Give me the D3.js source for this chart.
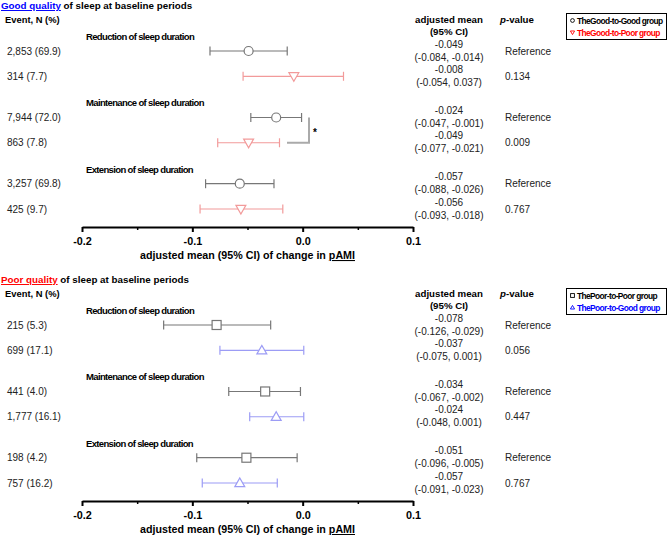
<!DOCTYPE html>
<html><head><meta charset="utf-8">
<script src="https://cdn.jsdelivr.net/npm/d3@7"></script>
<style>
body{margin:0;background:#fff;}
svg{font-family:"Liberation Sans",Arial,sans-serif;}
</style></head>
<body><div id="chart"></div>
<script>
// ---- data ----
const subgroups = ["Reduction of sleep duration","Maintenance of sleep duration","Extension of sleep duration"];
const tickValues = [-0.2,-0.1,0.0,0.1];
const tickLabels = ["-0.2","-0.1","0.0","0.1"];
const minorTicks = [-0.15,-0.05,0.05];

const goodEvents = ["2,853 (69.9)","314 (7.7)","7,944 (72.0)","863 (7.8)","3,257 (69.8)","425 (9.7)"];
const goodMeans  = [-0.049,-0.008,-0.024,-0.049,-0.057,-0.056];
const goodLower  = [-0.084,-0.054,-0.047,-0.077,-0.088,-0.093];
const goodUpper  = [-0.014,0.037,-0.001,-0.021,-0.026,-0.018];
const goodP      = ["Reference","0.134","Reference","0.009","Reference","0.767"];
const goodGroups = ["TheGood-to-Good group","TheGood-to-Poor group"];

const poorEvents = ["215 (5.3)","699 (17.1)","441 (4.0)","1,777 (16.1)","198 (4.2)","757 (16.2)"];
const poorMeans  = [-0.078,-0.037,-0.034,-0.024,-0.051,-0.057];
const poorLower  = [-0.126,-0.075,-0.067,-0.048,-0.096,-0.091];
const poorUpper  = [-0.029,0.001,-0.002,0.001,-0.005,-0.023];
const poorP      = ["Reference","0.056","Reference","0.447","Reference","0.767"];
const poorGroups = ["ThePoor-to-Poor group","ThePoor-to-Good group"];

const rowPos = [0,1,2.63,3.63,5.25,6.25];
const fmt = d3.format(".3f");
const f = v => fmt(v).replace("\u2212","-");

const W=669,H=535;
const svg = d3.select("#chart").append("svg").attr("width",W).attr("height",H);

const x = d3.scaleLinear().domain([-0.2,0.1]).range([82,413]);
const y = d3.scaleLinear().domain([0,6.25]).range([51,209]);

const panels = [
  {dy:0, word:"Good quality", wordColor:"#0000ff", events:goodEvents, means:goodMeans, lower:goodLower, upper:goodUpper, p:goodP,
   groups:goodGroups, legendColors:["#000","#ff0000"], barColors:["#777","#f29a9a"], symbols:["circle","down"]},
  {dy:274, word:"Poor quality", wordColor:"#ff0000", events:poorEvents, means:poorMeans, lower:poorLower, upper:poorUpper, p:poorP,
   groups:poorGroups, legendColors:["#000","#0000ff"], barColors:["#777","#9c9cf5"], symbols:["square","up"]}
];

function drawSymbol(g, type, cx, cy, s, color, sw){
  if(type==="circle"){
    g.append("circle").attr("cx",cx).attr("cy",cy).attr("r",s).attr("fill","#fff").attr("stroke",color).attr("stroke-width",sw);
  } else if(type==="square"){
    g.append("rect").attr("x",cx-s).attr("y",cy-s).attr("width",2*s).attr("height",2*s).attr("fill","#fff").attr("stroke",color).attr("stroke-width",sw);
  } else if(type==="down"){
    g.append("path").attr("d",`M${cx-s*1.1},${cy-s*0.8}L${cx+s*1.1},${cy-s*0.8}L${cx},${cy+s*1.1}Z`).attr("fill","#fff").attr("stroke",color).attr("stroke-width",sw);
  } else {
    g.append("path").attr("d",`M${cx-s*1.1},${cy+s*0.8}L${cx+s*1.1},${cy+s*0.8}L${cx},${cy-s*1.1}Z`).attr("fill","#fff").attr("stroke",color).attr("stroke-width",sw);
  }
}

panels.forEach(P=>{
  const g = svg.append("g").attr("transform",`translate(0,${P.dy})`);
  // title
  const t = g.append("text").attr("x",1).attr("y",9).attr("font-size",9.8).attr("font-weight","bold");
  t.append("tspan").attr("fill",P.wordColor).attr("text-decoration","underline").text(P.word);
  t.append("tspan").attr("fill","#000").text(" of sleep at baseline periods");
  g.append("text").attr("x",5).attr("y",23).attr("font-size",9.4).attr("font-weight","bold").text("Event, N (%)");
  // column headers
  g.append("text").attr("x",449).attr("y",22.5).attr("text-anchor","middle").attr("font-size",9.7).attr("font-weight","bold").text("adjusted mean");
  g.append("text").attr("x",449).attr("y",35).attr("text-anchor","middle").attr("font-size",9.7).attr("font-weight","bold").text("(95% CI)");
  const ph = g.append("text").attr("x",500).attr("y",22.5).attr("font-size",9.7).attr("font-weight","bold");
  ph.append("tspan").attr("font-style","italic").text("p");
  ph.append("tspan").text("-value");

  // subgroup headers
  subgroups.forEach((s,i)=>{
    g.append("text").attr("x",86).attr("y",y(rowPos[i*2])-11).attr("font-size",9.5).attr("font-weight","bold")
      .attr("letter-spacing",-0.65).text(s);
  });

  // rows
  P.events.forEach((ev,i)=>{
    const yy = y(rowPos[i]);
    const k = i%2;
    const col = P.barColors[k];
    g.append("text").attr("x",7).attr("y",yy+3.5).attr("font-size",10).attr("fill","#222").text(ev);
    g.append("line").attr("x1",x(P.lower[i])).attr("x2",x(P.upper[i])).attr("y1",yy).attr("y2",yy).attr("stroke",col).attr("stroke-width",1.2);
    [P.lower[i],P.upper[i]].forEach(v=>{
      g.append("line").attr("x1",x(v)).attr("x2",x(v)).attr("y1",yy-4.5).attr("y2",yy+4.5).attr("stroke",col).attr("stroke-width",1.2);
    });
    drawSymbol(g,P.symbols[k],x(P.means[i]),yy,4.5,col,1.2);
    g.append("text").attr("x",449).attr("y",yy-3.5).attr("text-anchor","middle").attr("font-size",10).attr("fill","#222").text(f(P.means[i]));
    g.append("text").attr("x",449).attr("y",yy+9.5).attr("text-anchor","middle").attr("font-size",10).attr("fill","#222")
      .text(`(${f(P.lower[i])}, ${f(P.upper[i])})`);
    g.append("text").attr("x",505).attr("y",yy+3.5).attr("font-size",10).attr("fill","#222").text(P.p[i]);
  });

  // axis
  const axY = 227;
  const ax = g.append("g").attr("transform",`translate(0,${axY})`)
    .call(d3.axisBottom(x).tickValues(tickValues).tickSize(5).tickSizeOuter(0).tickFormat((d,i)=>tickLabels[i]));
  ax.select(".domain").attr("stroke","#000").attr("stroke-width",2);
  ax.selectAll(".tick line").attr("stroke","#000").attr("stroke-width",2);
  ax.selectAll(".tick text").attr("font-size",10.8).attr("font-weight","bold").attr("fill","#000").attr("font-family","Liberation Sans, Arial, sans-serif").attr("dy","0.9em");
  const mx = g.append("g").attr("transform",`translate(0,${axY})`)
    .call(d3.axisBottom(x).tickValues(minorTicks).tickSize(3).tickSizeOuter(0).tickFormat(""));
  mx.select(".domain").remove();
  mx.selectAll(".tick line").attr("stroke","#000").attr("stroke-width",1.5);

  const at = g.append("text").attr("x",247.5).attr("y",259).attr("text-anchor","middle").attr("font-size",10.7).attr("font-weight","bold");
  at.append("tspan").text("adjusted mean (95% CI) of change in ");
  at.append("tspan").attr("text-decoration","underline").text("pAMI");

  // legend
  const ly = P.dy===0 ? 13 : 14;
  const lg = g.append("g");
  lg.append("rect").attr("x",566.5).attr("y",ly+0.5).attr("width",100).attr("height",26).attr("fill","#fff").attr("stroke","#000").attr("stroke-width",1);
  P.groups.forEach((name,k)=>{
    const cy = ly+7.5+k*12;
    drawSymbol(lg,P.symbols[k],572.5,cy,1.9,P.legendColors[k],0.9);
    lg.append("text").attr("x",577).attr("y",cy+3.2).attr("font-size",8.4).attr("font-weight","bold")
      .attr("letter-spacing",-0.6).attr("fill",P.legendColors[k]).text(name);
  });
});

// significance bracket (top panel, maintenance rows)
const b1 = y(rowPos[2]), b2 = y(rowPos[3]);
svg.append("path").attr("d",`M309,${b1}L309,${b2}L287,${b2}`).attr("fill","none").attr("stroke","#aaa").attr("stroke-width",2);
svg.append("text").attr("x",313).attr("y",(b1+b2)/2+6).attr("font-size",10).attr("font-weight","bold").text("*");
</script>
</body></html>
